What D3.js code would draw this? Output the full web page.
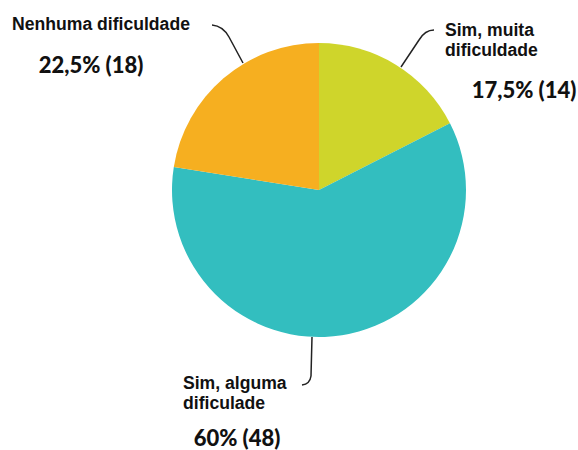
<!DOCTYPE html>
<html><head><meta charset="utf-8">
<script src="https://cdn.jsdelivr.net/npm/d3@7"></script>
<style>body{margin:0;background:#fff}</style>
</head><body>
<svg id="chart" width="578" height="450"></svg>
<script>
const categories = ["Sim, muita dificuldade", "Sim, alguma dificulade", "Nenhuma dificuldade"];
const counts = [14, 48, 18];
const percentLabels = ["17,5% (14)", "60% (48)", "22,5% (18)"];
const colors = ["#cfd52b", "#33bebf", "#f6af20"];

const svg = d3.select("#chart");
const cx = 319, cy = 190, r = 147;
const g = svg.append("g").attr("transform", `translate(${cx},${cy})`);
const pie = d3.pie().sort(null).value(d => d)(counts);
const arc = d3.arc().innerRadius(0).outerRadius(r);
g.selectAll("path").data(pie).enter().append("path")
  .attr("d", arc).attr("fill", (d, i) => colors[i]);

// leader lines
const leaders = [
  "M434,30 Q425,30 419,40 L401,67",
  "M312,337 L311,376 Q310,384 302,385",
  "M212,25 Q223,26 229,37 L243,63"
];
svg.selectAll("path.leader").data(leaders).enter().append("path")
  .attr("class", "leader").attr("d", d => d)
  .attr("fill", "none").attr("stroke", "#222").attr("stroke-width", 1.5);

// category labels
const nameFont = "'Liberation Sans', Arial, sans-serif";
const pctFont = "Lato, 'Liberation Sans', sans-serif";
const nameLines = [["Sim, muita", "dificuldade"], ["Sim, alguma", "dificulade"], ["Nenhuma dificuldade"]];
const namePos = [{x: 445, y: 36}, {x: 183, y: 389}, {x: 12, y: 30}];
const pctPos = [{x: 524, y: 98}, {x: 237, y: 446}, {x: 91, y: 73}];

nameLines.forEach((lines, i) => {
  const t = svg.append("text").attr("x", namePos[i].x).attr("y", namePos[i].y)
    .attr("font-family", nameFont).attr("font-weight", "bold").attr("font-size", 17.6)
    .attr("fill", "#111");
  lines.forEach((l, j) => t.append("tspan").attr("x", namePos[i].x).attr("dy", j === 0 ? 0 : 19.5).text(l));
  svg.append("text").attr("x", pctPos[i].x).attr("y", pctPos[i].y)
    .attr("text-anchor", "middle").attr("font-family", pctFont).attr("font-weight", 900)
    .attr("font-size", 22).attr("fill", "#111").text(percentLabels[i]);
});
</script>
</body></html>
